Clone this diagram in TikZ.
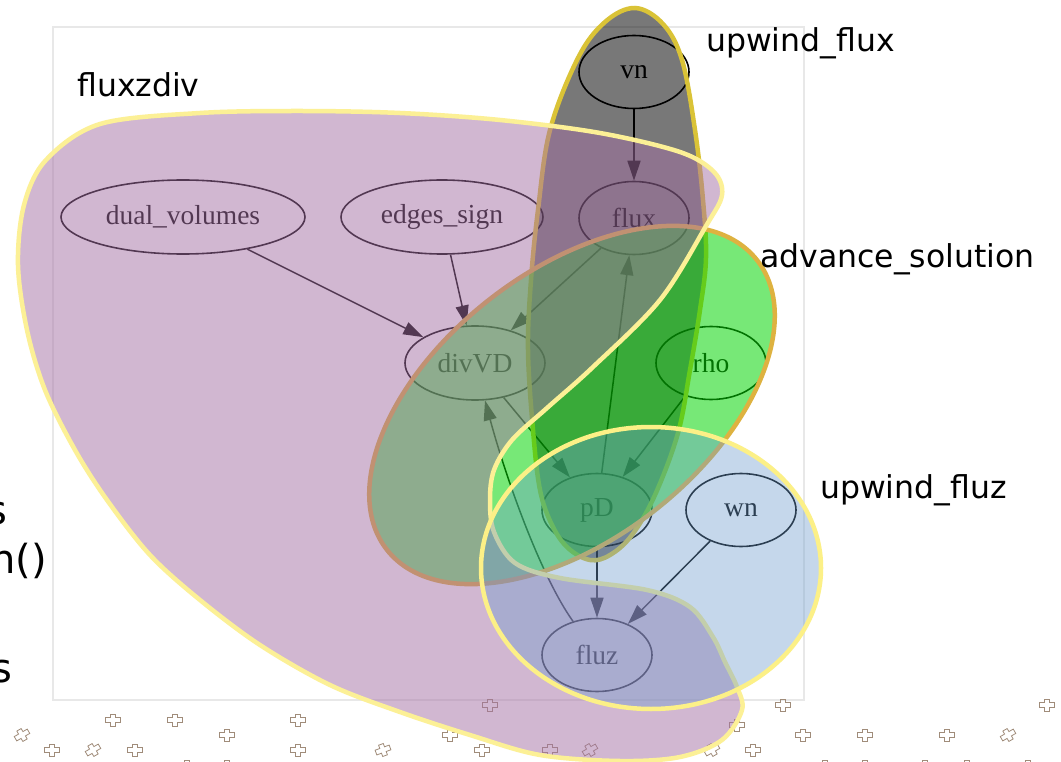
\documentclass[tikz,border=0pt]{standalone}
\usepackage{fontspec}
\setmainfont{Liberation Serif}
\newfontfamily\labelfont{DejaVu Sans}
\usetikzlibrary{arrows.meta,shapes.geometric}

% cluster fills and outlines
\definecolor{grayfill}{RGB}{0,0,0}
\definecolor{greenfill}{RGB}{5,213,5}
\definecolor{purplefill}{RGB}{165,113,165}
\definecolor{bluefill}{RGB}{110,157,205}
\definecolor{grayedge}{RGB}{218,195,55}
\definecolor{greenedge}{RGB}{222,178,64}
\definecolor{purpleedge}{RGB}{252,240,150}
\definecolor{blueedge}{RGB}{252,240,135}
\definecolor{framegray}{RGB}{232,232,232}
\definecolor{markbrown}{RGB}{160,140,122}

\tikzset{
  gnode/.style={draw=black, line width=1.6pt, ellipse, inner sep=0pt,
    minimum width=110pt, minimum height=73pt,
    font=\fontsize{27.5}{30}\selectfont},
  gedge/.style={draw=black, line width=1.5pt, -{Triangle[length=20pt,width=13pt]}},
  cluster/.style={line width=4.5pt},
  clabel/.style={anchor=base west, inner sep=0pt, font=\labelfont\fontsize{31.5}{34}\selectfont},
  sidetext/.style={inner sep=0pt, font=\labelfont\fontsize{40}{40}\selectfont},
  mk/.style={draw=markbrown, line width=0.8pt},
  pics/plusmark/.style={code={
    \draw[mk] (-2.5,-6)--(2.5,-6)--(2.5,-2.5)--(7.5,-2.5)--(7.5,2.5)--(2.5,2.5)
      --(2.5,6)--(-2.5,6)--(-2.5,2.5)--(-7.5,2.5)--(-7.5,-2.5)--(-2.5,-2.5)--cycle;}}
}

\begin{document}
\begin{tikzpicture}[x=1pt,y=-1pt]
\useasboundingbox (0,0) rectangle (1061,762);
\clip (0,0) rectangle (1061,762);
\fill[white] (0,0) rectangle (1061,762);

% plot frame
\draw[framegray, line width=1.2pt] (53,27) rectangle (804,700);

% scattered markers below the frame
\foreach \px/\py/\pr in {490/705/0, 113/720/0, 175/720/0, 298/720/0, 227/735/0,
  450/735/0, 22/735/30, 52/750/0, 93/750/30, 135/750/0, 298/750/0, 383/750/20,
  482/750/0, 187/766/0, 227/766/0, 783/705/0, 1047/705/0, 737/725/0, 803/735/0,
  865/735/0, 947/735/0, 1008/735/30, 550/750/0, 590/750/30, 712/750/30,
  753/750/0, 825/766/0, 865/766/0, 925/766/0, 967/766/0, 1028/766/0}
  \pic[rotate=\pr] at (\px,\py) {plusmark};

% graph nodes
\node[gnode] (vn) at (634,72) {vn};
\node[gnode] (flux) at (634,218) {flux};
\node[gnode, minimum width=244pt, minimum height=74pt] (dualv) at (183,217) {dual\_volumes};
\node[gnode, minimum width=202pt, minimum height=74pt] (edges) at (442,217) {edges\_sign};
\node[gnode, minimum width=140pt, minimum height=74pt] (divVD) at (475,363) {divVD};
\node[gnode] (rho) at (711,363) {rho};
\node[gnode] (pD) at (597,510) {pD};
\node[gnode] (wn) at (741,510) {wn};
\node[gnode] (fluz) at (597,655) {fluz};

% graph edges
\draw[gedge] (vn) -- (flux);
\draw[gedge] (dualv) -- (divVD);
\draw[gedge] (edges) -- (divVD);
\draw[gedge] (flux) -- (divVD);
\draw[gedge] (divVD) -- (pD);
\draw[gedge] (rho) -- (pD);
\draw[gedge] (pD) -- (flux);
\draw[gedge] (pD) -- (fluz);
\draw[gedge] (wn) -- (fluz);
\draw[gedge] (fluz) .. controls (540,575) and (505,475) .. (divVD);

% cluster: upwind_flux
\draw[cluster, draw=grayedge, fill=grayfill, fill opacity=0.53]
  plot[smooth cycle, tension=0.6] coordinates {
  (635,8) (663,24) (682,60) (695,130) (703,200) (706,258) (700,310) (690,370)
  (678,433) (655,495) (632,535) (610,555) (590,560) (568,548) (552,525)
  (540,490) (533,430) (528,350) (531,280) (538,210) (550,130) (578,58) (605,22)};

% cluster: advance_solution
\draw[cluster, draw=greenedge, fill=greenfill, fill opacity=0.54,
  shift={(572,405)}, rotate=38] (0,0) ellipse [x radius=235, y radius=134];

% cluster: fluxzdiv
\draw[cluster, draw=purpleedge, fill=purplefill, fill opacity=0.5]
  plot[smooth cycle, tension=0.55] coordinates {
  (100,124) (200,113) (300,111) (400,113) (500,120) (600,133) (680,152)
  (714,172) (722,195) (706,226) (660,300) (593,367) (547,408) (512,440)
  (494,470) (490,500) (494,532) (515,563) (560,578) (647,590) (690,607)
  (713,637) (725,662) (737,687) (742,710) (722,740) (680,757) (620,761)
  (540,755) (470,735) (400,712) (330,685) (260,645) (200,600) (150,555)
  (107,500) (75,450) (45,390) (27,330) (18,265) (24,205) (46,160)};

% cluster: upwind_fluz
\draw[cluster, draw=blueedge, fill=bluefill, fill opacity=0.4]
  (651,568) ellipse [x radius=170, y radius=141];

% cluster names
\node[clabel] (lfluxzdiv) at (77,97) {fluxzdiv};
\node[clabel] (lupflux) at (706,52) {upwind\_flux};
\node[clabel] (ladvance) at (760,268) {advance\_solution};
\node[clabel] (lupfluz) at (820,498) {upwind\_fluz};

% text cut by the left border
\node[sidetext, anchor=base east] (sideA) at (8,524) {s};
\node[sidetext, anchor=base west] (sideB) at (-10,573) {n()};
\node[sidetext, anchor=base east] (sideC) at (13,682) {s};
\end{tikzpicture}
\end{document}
